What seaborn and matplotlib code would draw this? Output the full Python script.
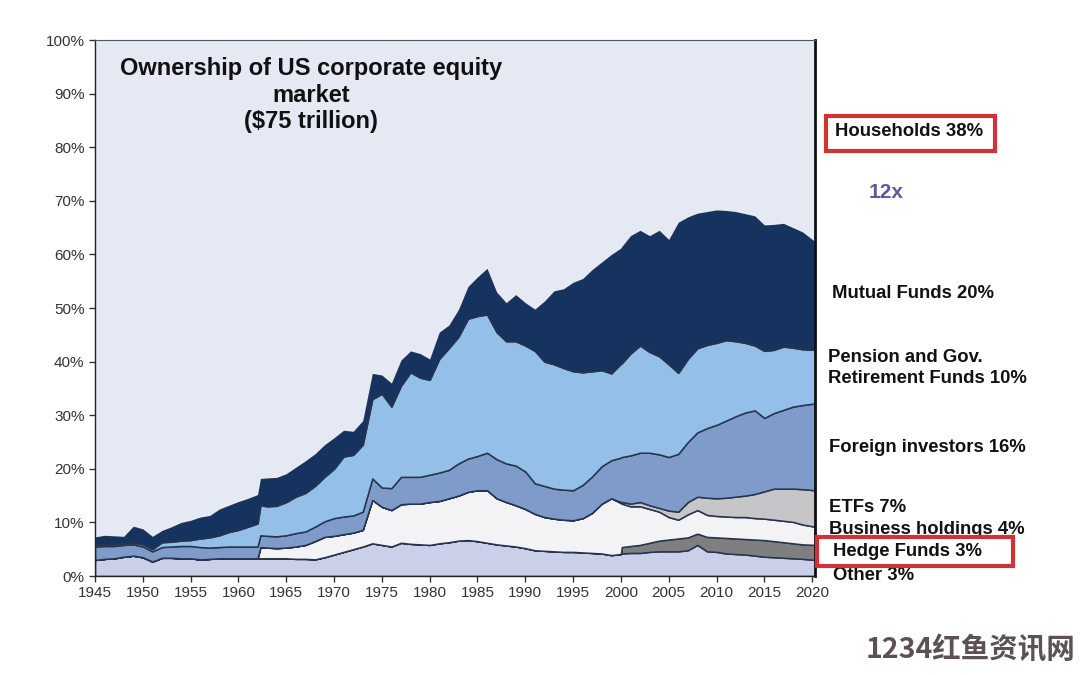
import matplotlib
matplotlib.use("Agg")
import matplotlib.pyplot as plt
import seaborn as sns
import numpy as np
from matplotlib.patches import Rectangle
from matplotlib.ticker import FuncFormatter

# ---------------- data (shares of US corporate equity, %) ----------------
years = [*range(1945, 1962), 1962.0, 1962.3, *range(1963, 2000), 2000.0, 2000.1,
         *range(2001, 2020), 2020.3]

other = [3.0, 3.2, 3.3, 3.6, 3.8, 3.5, 2.7, 3.4, 3.4, 3.3, 3.3, 3.1, 3.2, 3.3, 3.3, 3.3, 3.3,
         3.3, 3.3,
         3.3, 3.3, 3.3, 3.2, 3.2, 3.1, 3.5, 4.0, 4.5, 5.0, 5.5, 6.1, 5.8, 5.5, 6.2, 6.0, 5.9,
         5.8, 6.1, 6.3, 6.6, 6.7, 6.5, 6.2, 5.9, 5.7, 5.5, 5.2, 4.8, 4.7, 4.6, 4.5, 4.5, 4.4,
         4.3, 4.2, 3.9,
         4.1, 4.2,
         4.3, 4.3, 4.5, 4.6, 4.6, 4.6, 4.8, 5.8, 4.6, 4.5, 4.2, 4.1, 4.0, 3.8, 3.6, 3.5, 3.4,
         3.3, 3.2,
         3.0]
hedge = [0] * 17 + [0, 0] + [0] * 37 + [0, 1.2] + \
        [1.3, 1.5, 1.7, 2.0, 2.2, 2.4, 2.4, 2.1, 2.7, 2.7, 2.9, 2.9, 2.9, 3.0, 3.1, 3.0, 2.9,
         2.8, 2.7] + [2.8]
business = [0] * 17 + [0, 2.1] + \
           [2.0, 1.9, 2.0, 2.3, 2.6, 3.4, 3.8, 3.5, 3.3, 3.1, 3.1, 8.1, 7.1, 6.8, 7.2, 7.5, 7.6,
            8.0, 7.9, 8.2, 8.4, 9.0, 9.5, 9.8, 8.6, 8.1, 7.7, 7.3, 6.8, 6.3, 6.1, 6.0, 5.9, 6.4,
            7.5, 9.3, 10.6] + [9.5, 8.1] + \
           [7.4, 7.2, 6.3, 5.4, 4.2, 3.5, 4.3, 4.4, 4.1, 4.0, 4.0, 4.0, 4.1, 4.0, 4.0, 4.0, 4.0,
            4.0, 3.7] + [3.4]
etfs = [0] * 17 + [0, 0] + [0] * 37 + [0.2, 0.3] + \
       [0.5, 0.8, 0.7, 0.7, 1.2, 1.5, 2.3, 2.5, 3.2, 3.3, 3.5, 3.8, 4.0, 4.5, 5.1, 5.8, 6.0,
        6.2, 6.6] + [6.8]
foreign = [2.5, 2.4, 2.3, 2.2, 2.1, 2.0, 1.9, 2.0, 2.1, 2.3, 2.3, 2.3, 2.1, 2.1, 2.2, 2.2, 2.2,
           2.2, 2.2,
           2.2, 2.2, 2.3, 2.5, 2.5, 2.7, 2.9, 3.3, 3.3, 3.2, 3.4, 4.0, 3.6, 4.1, 5.1, 5.0, 5.0,
           5.1, 5.3, 5.3, 6.0, 6.2, 6.4, 7.0, 7.3, 7.2, 7.4, 7.0, 5.7, 5.8, 5.6, 5.6, 5.6, 6.2,
           6.8, 7.0, 7.1,
           8.3, 8.4,
           9.0, 9.2, 9.8, 10.0, 10.0, 10.8, 11.2, 12.0, 13.0, 13.7, 14.4, 15.0, 15.5, 15.6,
           13.7, 14.1, 14.7, 15.3, 15.7,
           16.2]
pension = [0.3, 0.3, 0.3, 0.3, 0.3, 0.4, 0.4, 0.9, 0.9, 1.0, 1.1, 1.6, 1.9, 2.2, 2.7, 3.1, 3.7,
           4.3, 5.6,
           5.5, 5.7, 6.2, 6.8, 7.2, 7.6, 8.3, 9.2, 11.2, 11.3, 12.5, 14.8, 17.5, 15.2, 17.0,
           19.5, 18.5, 17.7, 21.2, 22.7, 23.6, 26.1, 26.1, 25.8, 23.7, 22.8, 23.2, 23.5, 24.7,
           23.2, 23.2, 22.7, 22.2, 21.0, 19.6, 17.9, 16.2,
           17.5, 17.5,
           19.0, 20.0, 18.8, 18.3, 17.3, 15.1, 15.5, 15.7, 15.5, 15.3, 15.0, 14.0, 13.0, 12.1,
           12.5, 11.8, 11.8, 11.0, 10.4,
           10.0]
mutual = [1.5, 1.7, 1.6, 1.3, 3.1, 2.9, 2.4, 2.2, 2.8, 3.4, 3.7, 4.0, 4.1, 4.9, 5.0, 5.3, 5.3,
          5.4, 5.0,
          5.3, 5.3, 5.3, 5.5, 6.0, 6.0, 6.0, 5.8, 4.9, 4.4, 4.5, 4.8, 3.5, 4.4, 4.8, 4.0, 4.5,
          3.9, 5.0, 4.3, 5.1, 6.0, 7.3, 8.6, 7.5, 7.2, 8.7, 8.0, 7.8, 11.3, 13.7, 14.8, 16.6,
          17.5, 19.0, 20.2, 22.2,
          21.6, 21.8,
          22.0, 21.5, 21.7, 23.5, 23.3, 28.1, 26.5, 25.2, 24.9, 24.8, 24.2, 24.2, 24.1, 24.2,
          23.5, 23.4, 23.0, 22.4, 21.9,
          20.2]

series_names = ["Other", "Hedge Funds", "Business holdings", "ETFs", "Foreign investors",
                "Pension and Gov. Retirement Funds", "Mutual Funds", "Households"]
labels = ["Households 38%", "Mutual Funds 20%", "Pension and Gov.\nRetirement Funds 10%",
          "Foreign investors 16%", "ETFs 7%", "Business holdings 4%", "Hedge Funds 3%",
          "Other 3%"]
colors = ["#c9d0e8", "#7f7f80", "#f3f3f5", "#c6c6c8", "#7e9bc9", "#93bfe8", "#15335e",
          "#e4e9f4"]

x = np.array(years, dtype=float)
layers = [np.array(s, dtype=float) for s in
          [other, hedge, business, etfs, foreign, pension, mutual]]
households = 100 - np.sum(layers, axis=0)
layers.append(households)

# ---------------- figure ----------------
sns.set_theme(style="white")
plt.rcParams["font.family"] = ["Liberation Sans", "DejaVu Sans"]

fig = plt.figure(figsize=(10.8, 6.75), dpi=100)
fig.patch.set_facecolor("white")
ax = fig.add_axes([95 / 1080, 1 - 576 / 675, (815 - 95) / 1080, (576 - 40) / 675])
ax.set_facecolor("#e4e9f4")

polys = ax.stackplot(x, *layers, colors=colors, linewidth=1.1,
                     edgecolor="#26354d", labels=series_names)
polys[-1].set_linewidth(0)

ax.set_xlim(1945, 2020.3)
ax.set_ylim(0, 100)
ax.set_xticks(list(range(1945, 2021, 5)))
ax.set_yticks(list(range(0, 101, 10)))
ax.yaxis.set_major_formatter(FuncFormatter(lambda v, p: f"{int(v)}%"))
ax.tick_params(axis="both", which="major", length=4, width=1, color="#333333",
               labelsize=11, labelcolor="#333333", direction="out",
               bottom=True, left=True)
for side in ["left", "bottom"]:
    ax.spines[side].set_color("#222222")
    ax.spines[side].set_linewidth(1.0)
ax.spines["top"].set_color("#555555")
ax.spines["top"].set_linewidth(0.8)
ax.spines["right"].set_color("#111111")
ax.spines["right"].set_linewidth(2.0)
ax.grid(False)

ax.text(0.30, 0.968, "Ownership of US corporate equity\nmarket\n($75 trillion)",
        transform=ax.transAxes, ha="center", va="top", fontsize=17,
        fontweight="bold", color="#111111", linespacing=1.2)

# ---------------- right-hand labels ----------------
def fx(px):
    return px / 1080


def fy(py):
    return 1 - py / 675


label_pos = [(835, 132), (832, 294), (828, 368), (829, 447), (829, 507), (829, 529),
             (833, 551), (833, 575)]
for (px, py), txt in zip(label_pos, labels):
    fig.text(fx(px), fy(py), txt, ha="left", va="center", fontsize=13.3,
             fontweight="bold", color="#111111", linespacing=1.25)

fig.text(fx(886), fy(192), "12x", ha="center", va="center", fontsize=15,
         fontweight="bold", color="#5a5a9e")

for (x0, y0, x1, y1) in [(826, 116, 995, 151), (817, 537, 1013, 566)]:
    fig.patches.append(Rectangle((fx(x0), fy(y1)), fx(x1 - x0), (y1 - y0) / 675,
                                 transform=fig.transFigure, fill=False,
                                 edgecolor="#cf3434", linewidth=3, zorder=5))

fig.text(fx(1075), fy(650), "1234红鱼资讯网", ha="right", va="center", fontsize=20.5,
         fontweight="bold", color="#5c5254",
         family=["Noto Sans CJK SC", "DejaVu Sans"])

fig.savefig("out.png", dpi=100, facecolor="white")
